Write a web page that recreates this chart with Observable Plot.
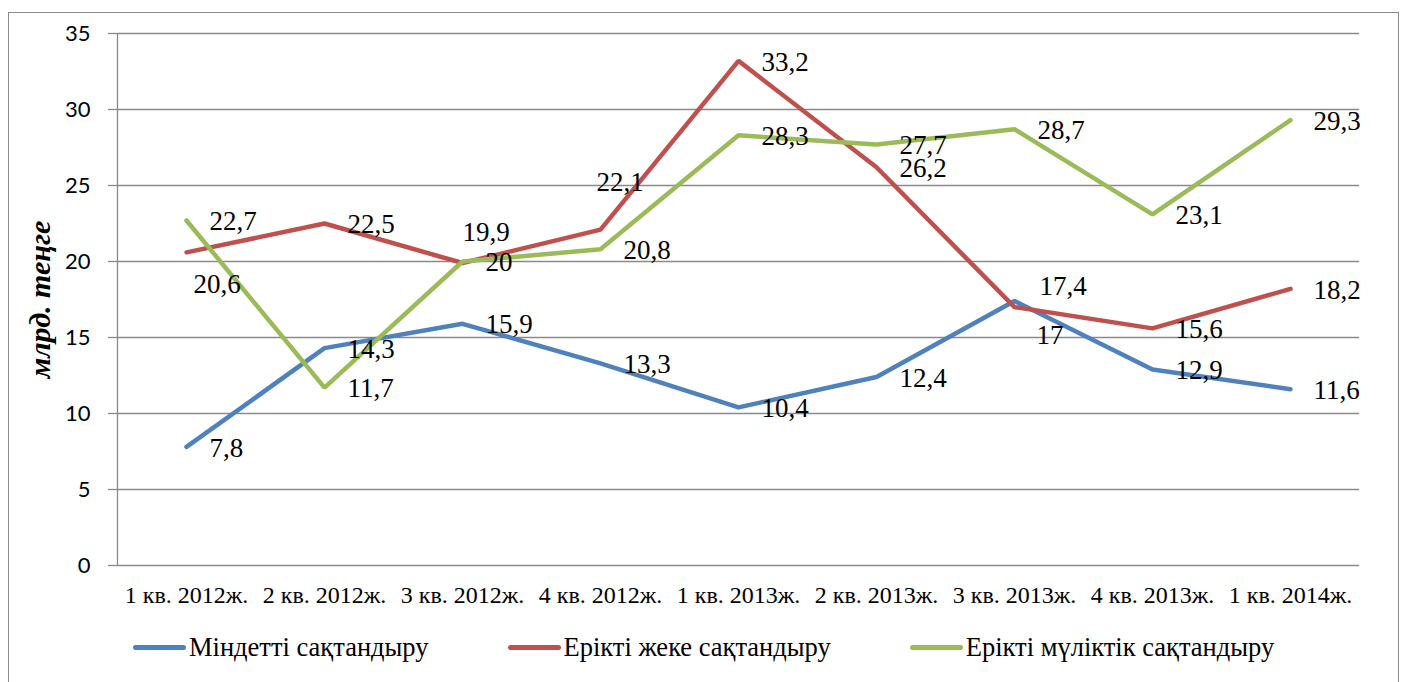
<!DOCTYPE html>
<html>
<head>
<meta charset="utf-8">
<script src="https://cdn.jsdelivr.net/npm/d3@7"></script>
<script src="https://cdn.jsdelivr.net/npm/@observablehq/plot@0.6"></script>
<style>
  html, body { margin: 0; padding: 0; background: #fff; overflow: hidden; }
  #wrap { position: relative; width: 1403px; height: 682px; }
  #frame { position: absolute; left: 8px; top: 12px; width: 1389px; height: 700px;
           border: 1.5px solid #8c8c8c; pointer-events: none; }
  #legend { position: absolute; left: 133px; top: 632px; display: flex; gap: 79px;
            font-family: "Liberation Serif", "Times New Roman", serif; font-size: 26.5px; color: #000; }
  .item { display: flex; align-items: center; white-space: nowrap; }
  .swatch { width: 53px; height: 5px; border-radius: 3px; margin-right: 3px; }
</style>
</head>
<body>
<div id="wrap">
  <div id="chart"></div>
  <div id="legend"></div>
  <div id="frame"></div>
</div>
<script>
// ---- data ----
const categories = ["1 кв. 2012ж.", "2 кв. 2012ж.", "3 кв. 2012ж.", "4 кв. 2012ж.",
  "1 кв. 2013ж.", "2 кв. 2013ж.", "3 кв. 2013ж.", "4 кв. 2013ж.", "1 кв. 2014ж."];
const seriesNames = ["Міндетті сақтандыру", "Ерікті жеке сақтандыру", "Ерікті мүліктік сақтандыру"];
const mindetti = [7.8, 14.3, 15.9, 13.3, 10.4, 12.4, 17.4, 12.9, 11.6];
const eriktiZheke = [20.6, 22.5, 19.9, 22.1, 33.2, 26.2, 17, 15.6, 18.2];
const eriktiMulik = [22.7, 11.7, 20, 20.8, 28.3, 27.7, 28.7, 23.1, 29.3];
const yTicks = [0, 5, 10, 15, 20, 25, 30, 35];
const colors = ["#4F81BD", "#C0504D", "#9BBB59"];
const yLabel = "млрд. теңге";

// label placement exceptions (series index, category index, placement)
const labelPlacement = [
  [1, 0, "below"], [1, 2, "above"], [1, 3, "high"],
  [0, 6, "raised"], [1, 6, "lowered"]
];
const placementOffset = {
  right: [23, 1], below: [7, 32], above: [0, -31], high: [-4, -47],
  raised: [25, -15], lowered: [22, 28]
};

// ---- build table ----
const seriesValues = [mindetti, eriktiZheke, eriktiMulik];
const rows = [];
seriesValues.forEach((vals, s) => vals.forEach((v, i) => {
  const p = labelPlacement.find(d => d[0] === s && d[1] === i);
  const off = placementOffset[p ? p[2] : "right"];
  rows.push({series: seriesNames[s], s, i, value: v,
             label: String(v).replace(".", ","), dx: off[0], dy: off[1]});
}));

const serif = "'Liberation Serif', 'Times New Roman', serif";
const grid = "#8a8a8a";

const lineMarks = seriesNames.map((name, s) =>
  Plot.line(rows.filter(d => d.s === s), {x: "i", y: "value", stroke: colors[s],
    strokeWidth: 4.5, strokeLinejoin: "miter", strokeLinecap: "round"}));

const textMarks = rows.map(d => Plot.text([d], {x: "i", y: "value", text: "label",
  dx: d.dx, dy: d.dy, textAnchor: "start", fontSize: 27, fontFamily: serif, fill: "#000"}));

const chart = Plot.plot({
  width: 1403,
  height: 610,
  marginTop: 33,
  marginBottom: 45,
  marginLeft: 117,
  marginRight: 44,
  style: {background: "transparent", overflow: "visible"},
  x: {domain: [-0.5, categories.length - 0.5]},
  y: {domain: [0, 35]},
  marks: [
    Plot.gridY(yTicks, {stroke: grid, strokeOpacity: 1, strokeWidth: 1.3}),
    Plot.ruleX([-0.5], {y1: 0, y2: 35, stroke: grid, strokeWidth: 1.3}),
    Plot.axisY(yTicks, {tickSize: 9, tickPadding: 18, stroke: grid, strokeWidth: 1.3,
      fontSize: 22, fontFamily: "Lato, 'Open Sans', sans-serif", fill: "#000", label: null}),
    Plot.axisX(d3.range(categories.length), {tickSize: 0, tickPadding: 20,
      tickFormat: i => categories[i], fontSize: 24, fontFamily: serif, fill: "#000", label: null}),
    Plot.text([yLabel], {frameAnchor: "left", textAnchor: "middle", dx: -77, rotate: -90, fontSize: 30,
      fontWeight: "bold", fontStyle: "italic", fontFamily: serif, fill: "#000"}),
    ...lineMarks,
    ...textMarks
  ]
});
document.getElementById("chart").appendChild(chart);

// legend
const legend = document.getElementById("legend");
seriesNames.forEach((name, s) => {
  const it = document.createElement("div");
  it.className = "item";
  const sw = document.createElement("span");
  sw.className = "swatch";
  sw.style.background = colors[s];
  const tx = document.createElement("span");
  tx.textContent = name;
  it.appendChild(sw); it.appendChild(tx);
  legend.appendChild(it);
});
</script>
</body>
</html>
